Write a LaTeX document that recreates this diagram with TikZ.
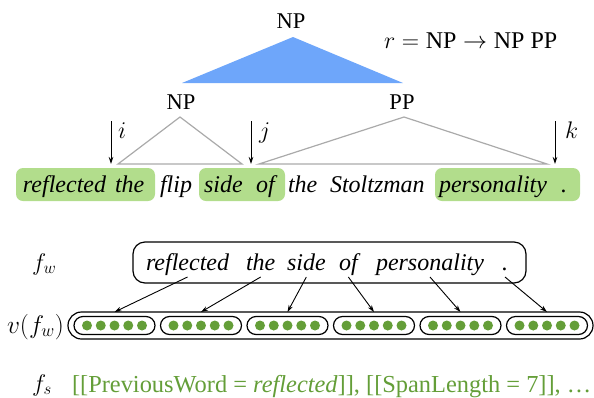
\RequirePackage{fix-cm}
\documentclass[tikz,border=0pt]{standalone}
\usepackage{fontspec}
\setmainfont{Liberation Serif}
\usetikzlibrary{arrows.meta}
\definecolor{triblue}{RGB}{110,166,250}
\definecolor{hlgreen}{RGB}{178,221,140}
\definecolor{dotgreen}{RGB}{100,158,56}
\definecolor{linegray}{RGB}{170,170,170}
\begin{document}
\begin{tikzpicture}[x=1pt,y=-1pt,
  every node/.style={inner sep=0pt, outer sep=0pt},
  word/.style={anchor=base west, font=\fontsize{24}{28}\selectfont\itshape},
  lab/.style={anchor=base, font=\fontsize{22.5}{26}\selectfont},
  mlab/.style={anchor=base west, font=\fontsize{24}{28}\selectfont},
  arr/.style={-{Stealth[length=7pt,width=4.5pt]}, line width=0.9pt},
  hl/.style={fill=hlgreen, rounded corners=7pt},
  gtri/.style={draw=linegray, line width=1.2pt},
  pill/.style={draw, line width=1.2pt}]
\useasboundingbox (0,0) rectangle (594,397);
% highlights
\fill[hl] (16,168) rectangle (155,201);
\fill[hl] (199,168) rectangle (285,201);
\fill[hl] (435,168) rectangle (580,201);
% tree
\node[lab] (np0) at (291,28) {NP};
\node[mlab] (rule) at (384,48) {$r = \mbox{NP} \rightarrow \mbox{NP PP}$};
\fill[triblue] (293,37) -- (182,83) -- (403,83) -- cycle;
\node[lab] (np1) at (181,109) {NP};
\node[lab] (pp1) at (402,109) {PP};
\draw[gtri] (118,164) -- (180,117) -- (242,164) -- cycle;
\draw[gtri] (259,164) -- (404,117) -- (547,164) -- cycle;
% index arrows
\coordinate (ia) at (111,121); \coordinate (ib) at (111,164);
\coordinate (ja) at (251,121); \coordinate (jb) at (251,164);
\coordinate (ka) at (555,121); \coordinate (kb) at (555,164);
\draw[arr] (ia) -- (ib);
\draw[arr] (ja) -- (jb);
\draw[arr] (ka) -- (kb);
\node[mlab] (li) at (118,138) {$i$};
\node[mlab] (lj) at (259,138) {$j$};
\node[mlab] (lk) at (565,138) {$k$};
% sentence
\node[word] (t1) at (23,192) {reflected};
\node[word] (t2) at (115,192) {the};
\node[word] (t3) at (160,192) {flip};
\node[word] (t4) at (204,192) {side};
\node[word] (t5) at (256,192) {of};
\node[word] (t6) at (288,192) {the};
\node[word] (t7) at (330,192) {Stoltzman};
\node[word] (t8) at (439,192) {personality};
\node[word] (t9) at (561,192) {.};
% f_w box
\node[mlab] (fw) at (32,270) {$f_w$};
\node[draw, line width=1.2pt, rounded corners=12pt, minimum width=393pt, minimum height=41pt] (fwbox) at (329.5,262.5) {};
\node[word] (b1) at (146,270) {reflected};
\node[word] (b2) at (246,270) {the};
\node[word] (b3) at (287,270) {side};
\node[word] (b4) at (339,270) {of};
\node[word] (b5) at (376,270) {personality};
\node[word] (b6) at (502,270) {.};
% vectors
\node[mlab, font=\fontsize{25.5}{30}\selectfont] (vfw) at (7,333) {$v(f_w)$};
\node[pill, rounded corners=13.5pt, minimum width=525pt, minimum height=27pt] (outer) at (330.5,325.5) {};
\foreach \k [count=\n] in {0,...,5}{
  \node[pill, rounded corners=9pt, minimum width=81pt, minimum height=18pt] (v\n) at ({114.5+86.5*\k},325.5) {};
  \foreach \d in {-2,...,2}
    \fill[dotgreen] ({114.5+86.5*\k+13.75*\d},325.5) circle (5pt);
}
\foreach \n in {1,...,6}
  \draw[arr] ([yshift=-7pt]b\n.base) -- (v\n.north |- outer.north);
% features
\node[mlab] (fs) at (32,391) {$f_s$};
\node[anchor=base west, text=dotgreen, font=\fontsize{24.4}{28}\selectfont] (feat) at (72,392) {[[PreviousWord = \textit{reflected}]], [[SpanLength = 7]], \dots};
\end{tikzpicture}
\end{document}
